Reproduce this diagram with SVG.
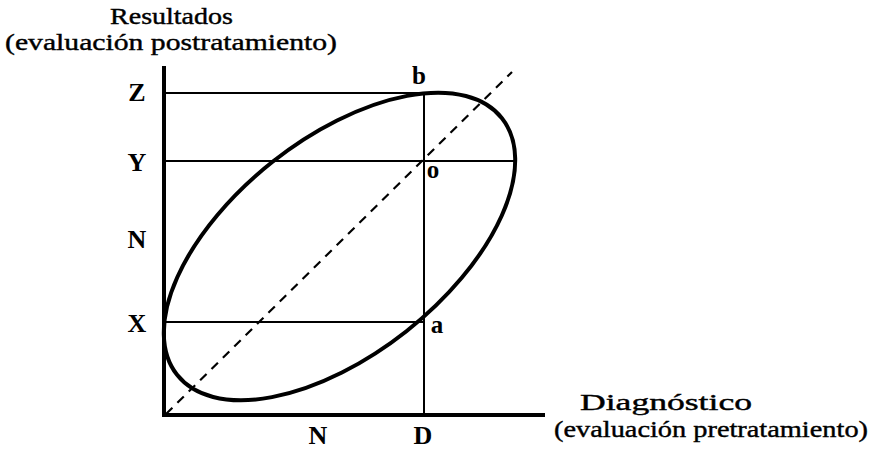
<svg xmlns="http://www.w3.org/2000/svg" width="875" height="450" viewBox="0 0 875 450">
<style>
.t{font-family:"Liberation Serif","Times New Roman",serif;font-size:23px;fill:#000;stroke:#000;stroke-width:0.4}
.l{font-family:"Liberation Serif","Times New Roman",serif;font-size:26px;font-weight:bold;fill:#000;text-anchor:middle}
.s{font-family:"Liberation Serif","Times New Roman",serif;font-size:25px;font-weight:bold;fill:#000;text-anchor:middle}
.ax{stroke:#000;stroke-width:4;fill:none}
.ln{stroke:#000;stroke-width:2;fill:none}
.ds{stroke:#000;stroke-width:2.2;fill:none;stroke-dasharray:9 7}
.el{stroke:#000;stroke-width:4;fill:none}
</style>
<rect width="875" height="450" fill="#fff"/>
<g id="connectors">
<line class="ax" x1="164" y1="66" x2="164" y2="417"/>
<line class="ax" x1="162" y1="415" x2="545" y2="415"/>
<line class="ln" x1="164" y1="93" x2="430" y2="93"/>
<line class="ln" x1="164" y1="161" x2="515" y2="161"/>
<line class="ln" x1="164" y1="322" x2="424" y2="322"/>
<line class="ln" x1="424" y1="93" x2="424" y2="415"/>
<line class="ds" x1="166" y1="414" x2="512" y2="72"/>
</g>
<g id="ellipse">
<ellipse class="el" cx="339.5" cy="246.5" rx="207" ry="108" transform="rotate(-38.3 339.5 246.5)"/>
</g>
<g id="y-axis-title">
<text class="t" x="110" y="24" textLength="123" lengthAdjust="spacingAndGlyphs">Resultados</text>
<text class="t" x="5" y="50" textLength="332" lengthAdjust="spacingAndGlyphs">(evaluación  postratamiento)</text>
</g>
<g id="x-axis-title">
<text class="t" x="580" y="410" textLength="172" lengthAdjust="spacingAndGlyphs">Diagnóstico</text>
<text class="t" x="554" y="437" textLength="314" lengthAdjust="spacingAndGlyphs">(evaluación  pretratamiento)</text>
</g>
<g id="labels">
<text class="l" x="137" y="101">Z</text>
<text class="l" x="137" y="171">Y</text>
<text class="l" x="137" y="248">N</text>
<text class="l" x="137" y="332">X</text>
<text class="l" x="318" y="444">N</text>
<text class="l" x="423" y="444">D</text>
<text class="s" x="419" y="84">b</text>
<text class="s" x="433" y="178">o</text>
<text class="s" x="437" y="333">a</text>
</g>
</svg>
